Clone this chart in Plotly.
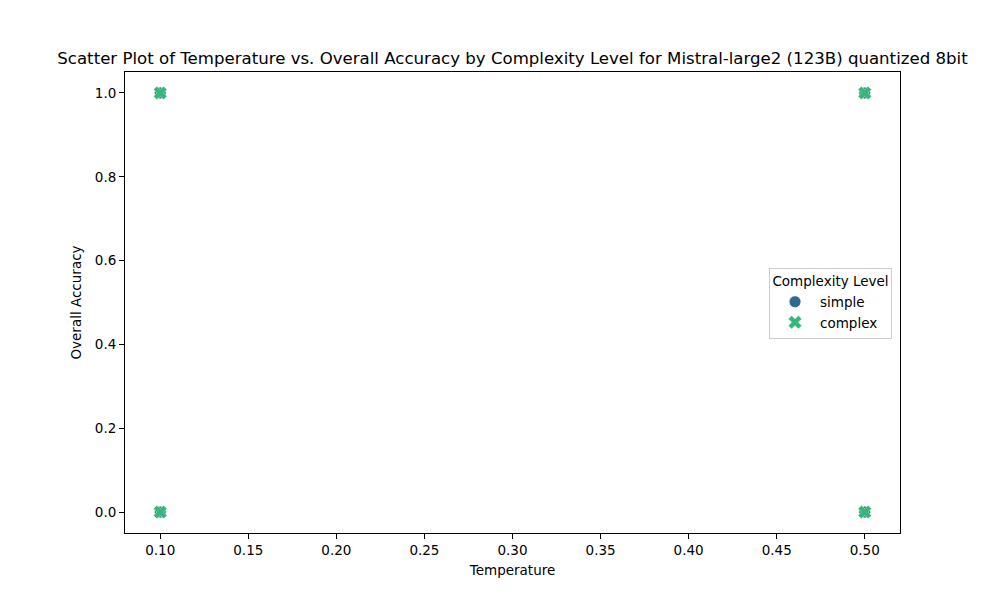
import plotly.graph_objects as go

# data points (temperature, overall accuracy) per complexity level
simple_temp = [0.1, 0.1, 0.5, 0.5]
simple_acc = [0.0, 1.0, 0.0, 1.0]
complex_temp = [0.1, 0.1, 0.5, 0.5]
complex_acc = [0.0, 1.0, 0.0, 1.0]

x_ticks = [0.10, 0.15, 0.20, 0.25, 0.30, 0.35, 0.40, 0.45, 0.50]
y_ticks = [0.0, 0.2, 0.4, 0.6, 0.8, 1.0]

fig = go.Figure()
fig.add_trace(go.Scatter(x=simple_temp, y=simple_acc, mode='markers', name='simple',
                         marker=dict(symbol='circle', size=12, color='#31688e',
                                     line=dict(color='white', width=0.8))))
fig.add_trace(go.Scatter(x=complex_temp, y=complex_acc, mode='markers', name='complex',
                         marker=dict(symbol='x', size=12, color='#35b779',
                                     line=dict(color='white', width=0.5))))

axis_style = dict(showgrid=False, zeroline=False, showline=True, linecolor='black', linewidth=1,
                  mirror=True, ticks='outside', ticklen=5, tickcolor='black',
                  tickfont=dict(size=13.5, color='black'))

fig.update_layout(
    width=1000, height=600,
    paper_bgcolor='white', plot_bgcolor='white',
    font=dict(family='DejaVu Sans', color='black'),
    margin=dict(l=117, r=108, t=64, b=75),
    title=dict(text='Scatter Plot of Temperature vs. Overall Accuracy by Complexity Level for Mistral-large2 (123B) quantized 8bit',
               x=0.5045, xanchor='center', y=0.9167, yanchor='middle', font=dict(size=16.6)),
    xaxis=dict(range=[0.08, 0.52], tickvals=x_ticks, ticktext=[f'{v:.2f}' for v in x_ticks],
               title=dict(text='Temperature', font=dict(size=13.5), standoff=8), **axis_style),
    yaxis=dict(range=[-0.05, 1.05], tickvals=y_ticks, ticktext=[f'{v:.1f}' for v in y_ticks],
               title=dict(text='Overall Accuracy', font=dict(size=13.5), standoff=10), **axis_style),
    legend=dict(title=dict(text='Complexity Level', side='top center', font=dict(size=13.5)),
                x=0.9897, xanchor='right', y=0.498, yanchor='middle',
                bordercolor='#cccccc', borderwidth=1, bgcolor='rgba(255,255,255,0.8)',
                font=dict(size=13.5), tracegroupgap=2, itemwidth=40),
)

fig.write_html("out.html")
